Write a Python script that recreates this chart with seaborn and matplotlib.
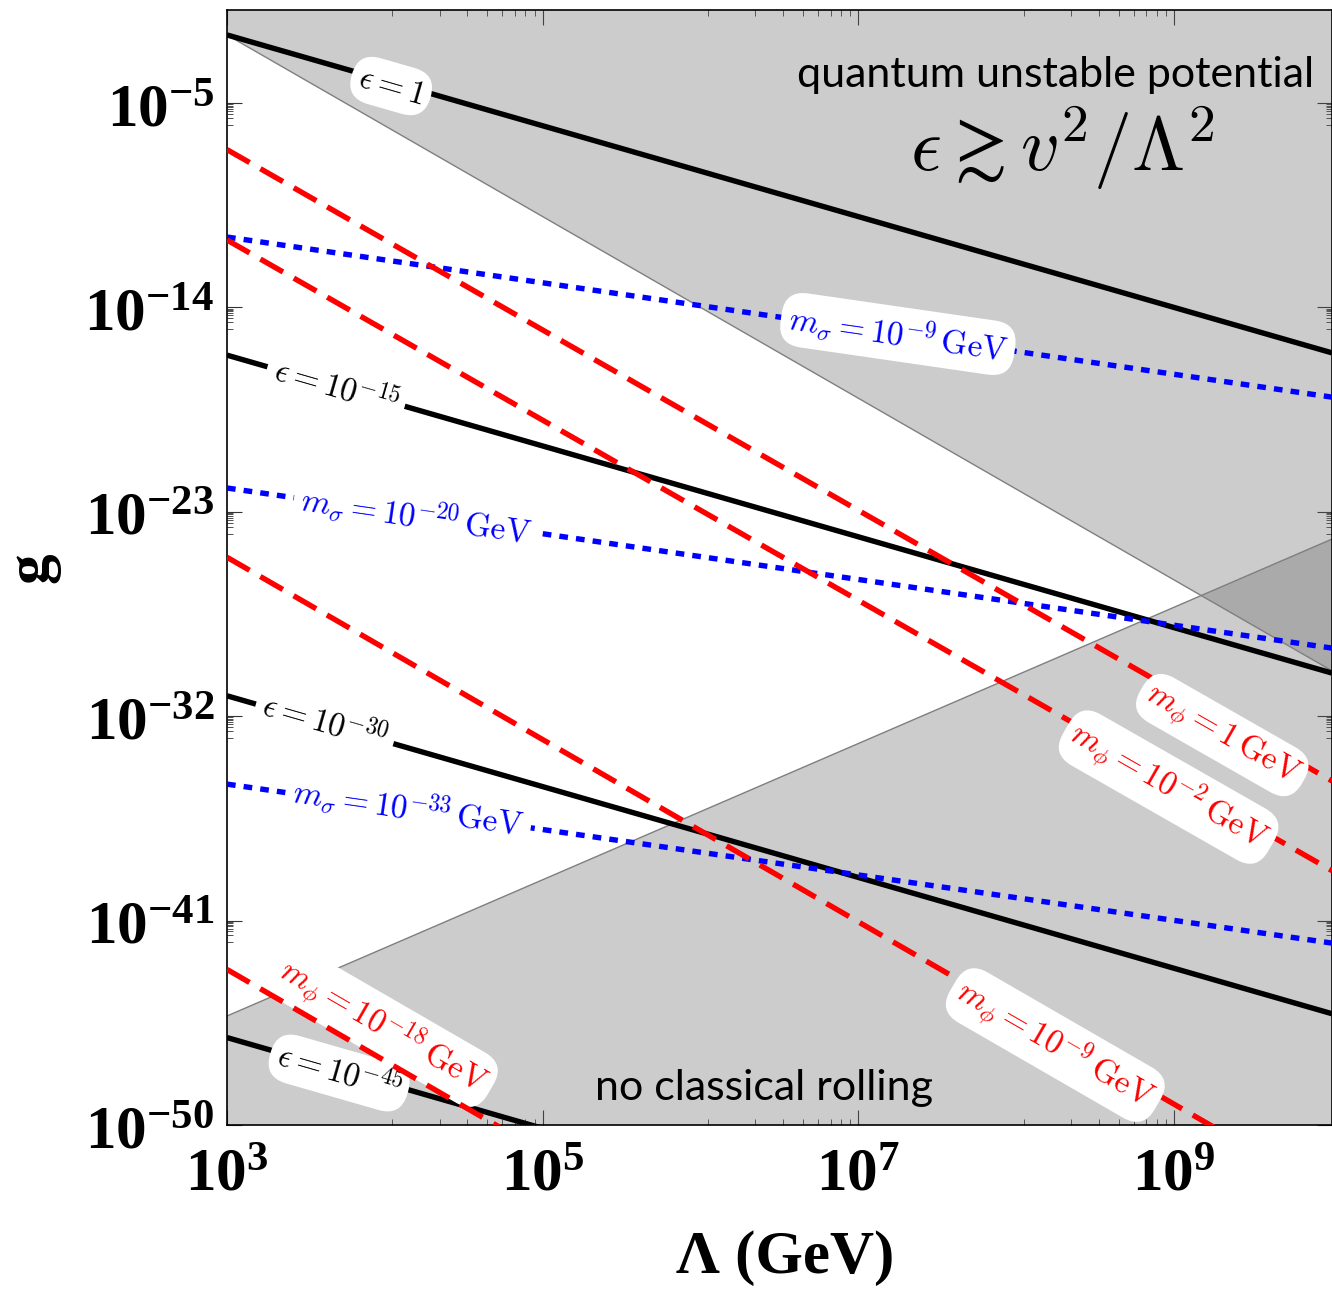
import numpy as np
import pandas as pd
import matplotlib
matplotlib.use("Agg")
import matplotlib.pyplot as plt
import seaborn as sns
from matplotlib.ticker import FixedLocator, FixedFormatter, NullFormatter

# ---------------- data ----------------
LAMBDA = [1e3, 1e10]                      # GeV, line end points
EPS_NAMES = ["1", "10^{-15}", "10^{-30}", "10^{-45}"]
EPS_LOGG = [[-2.0, -16.0], [-16.1, -30.1], [-31.1, -45.1], [-46.15, -60.15]]
MPHI_NAMES = ["1", "10^{-2}", "10^{-9}", "10^{-18}"]
MPHI_LOGG = [[-7.05, -34.85], [-11.03, -38.8], [-25.0, -53.1], [-43.15, -71.3]]
MSIG_NAMES = ["10^{-9}", "10^{-20}", "10^{-33}"]
MSIG_LOGG = [[-10.9, -17.95], [-21.95, -29.0], [-34.99, -41.99]]
UNSTABLE_LOGG = [-2.0, -30.0]             # lower edge of "quantum unstable" region
NOROLL_LOGG = [-45.2, -24.2]              # upper edge of "no classical rolling" region

XTICKS = [1e3, 1e5, 1e7, 1e9]
XTICKLABELS = [r"$10^{3}$", r"$10^{5}$", r"$10^{7}$", r"$10^{9}$"]
YTICKS = [1e-50, 1e-41, 1e-32, 1e-23, 1e-14, 1e-5]
YTICKLABELS = [r"$10^{-50}$", r"$10^{-41}$", r"$10^{-32}$", r"$10^{-23}$",
               r"$10^{-14}$", r"$10^{-5}$"]

# label centres (log10 Lambda, log10 g)
EPS_LABEL_POS = [(4.04, -4.25), (3.69, -17.51), (3.62, -32.30), (3.71, -47.71)]
MSIG_LABEL_POS = [(7.25, -15.17), (4.20, -23.19), (4.15, -36.04)]
MPHI_LABEL_POS = [(9.305, -32.83), (8.965, -35.12), (8.247, -46.48), (3.99, -45.69)]

# ---------------- style ----------------
sns.set_style("ticks")
plt.rcParams["font.family"] = ["DejaVu Sans"]
plt.rcParams["mathtext.fontset"] = "custom"
plt.rcParams["mathtext.rm"] = "Liberation Serif:bold"
plt.rcParams["mathtext.it"] = "Liberation Serif:italic:bold"
plt.rcParams["mathtext.bf"] = "Liberation Serif:bold"
plt.rcParams["axes.linewidth"] = 1.2
plt.rcParams["axes.edgecolor"] = "black"
plt.rcParams["text.color"] = "black"
plt.rcParams["axes.labelcolor"] = "black"
plt.rcParams["xtick.labelcolor"] = "black"
plt.rcParams["ytick.labelcolor"] = "black"

W, H = 1332, 1289
fig = plt.figure(figsize=(W / 100, H / 100), dpi=100)
ax = fig.add_axes([227 / W, 1 - 1125 / H, 1 - 227 / W, (1125 - 9.5) / H])
ax.set_xscale("log")
ax.set_yscale("log")
ax.set_xlim(1e3, 1e10)
ax.set_ylim(1e-50, 10 ** -0.88)

# ---------------- shaded regions ----------------
gray_kw = dict(facecolor="#666666", alpha=1 / 3, edgecolor="none", linewidth=0, zorder=1)
ax.fill_between(LAMBDA, [10 ** v for v in UNSTABLE_LOGG], [1e5, 1e5], **gray_kw)
ax.fill_between(LAMBDA, [1e-80, 1e-80], [10 ** v for v in NOROLL_LOGG], **gray_kw)
ax.plot(LAMBDA, [10 ** v for v in UNSTABLE_LOGG], color="#7f7f7f", lw=1.0, zorder=1.5)
ax.plot(LAMBDA, [10 ** v for v in NOROLL_LOGG], color="#7f7f7f", lw=1.0, zorder=1.5)

# ---------------- curves ----------------
LW = 3.9
for lg in EPS_LOGG:
    df = pd.DataFrame({"L": LAMBDA, "g": [10 ** v for v in lg]})
    sns.lineplot(data=df, x="L", y="g", ax=ax, color="black", lw=LW,
                 solid_capstyle="butt", zorder=2, sort=False)
for lg in MSIG_LOGG:
    df = pd.DataFrame({"L": LAMBDA, "g": [10 ** v for v in lg]})
    sns.lineplot(data=df, x="L", y="g", ax=ax, color="#0000ff", lw=LW,
                 linestyle=(0, (1.6, 1.5)), zorder=3, sort=False)
for lg in MPHI_LOGG:
    df = pd.DataFrame({"L": LAMBDA, "g": [10 ** v for v in lg]})
    sns.lineplot(data=df, x="L", y="g", ax=ax, color="#ff0000", lw=LW,
                 linestyle=(0, (4.8, 2.3)), zorder=4, sort=False)


def screen_angle(lg):
    p0 = ax.transData.transform((LAMBDA[0], 10 ** lg[0]))
    p1 = ax.transData.transform((LAMBDA[1], 10 ** lg[1]))
    return np.degrees(np.arctan2(p1[1] - p0[1], p1[0] - p0[0]))


def add_label(text, pos, lg, color, z):
    ax.text(10 ** pos[0], 10 ** pos[1], text, color=color, fontsize=24,
            math_fontfamily="cm", ha="center", va="center",
            rotation=screen_angle(lg), rotation_mode="anchor", zorder=z,
            bbox=dict(boxstyle="round,pad=0.22,rounding_size=0.7",
                      facecolor="white", edgecolor="none"))


for name, pos, lg in zip(EPS_NAMES, EPS_LABEL_POS, EPS_LOGG):
    add_label(r"$\epsilon = %s$" % name, pos, lg, "black", 2.5)
for name, pos, lg in zip(MSIG_NAMES, MSIG_LABEL_POS, MSIG_LOGG):
    add_label(r"$m_\sigma = %s\,\mathrm{GeV}$" % name, pos, lg, "#0000ff", 3.5)
for i, (name, pos, lg) in enumerate(zip(MPHI_NAMES, MPHI_LABEL_POS, MPHI_LOGG)):
    z = 3.9 if i == 3 else 4.5
    add_label(r"$m_\phi = %s\,\mathrm{GeV}$" % name, pos, lg, "#ff0000", z)

# ---------------- region captions ----------------
fig.text(1314 / W, 1 - 87 / H, "quantum unstable potential", fontsize=31,
         family="Lato", ha="right", va="baseline", zorder=10)
fig.text(1062 / W, 1 - 171 / H, r"$\epsilon \gtrsim v^2/\Lambda^2$", fontsize=55,
         math_fontfamily="cm", ha="center", va="baseline", zorder=10)
fig.text(764 / W, 1 - 1100 / H, "no classical rolling", fontsize=31,
         family="Lato", ha="center", va="baseline", zorder=10)

# ---------------- ticks ----------------
ax.xaxis.set_major_locator(FixedLocator(XTICKS))
ax.xaxis.set_major_formatter(FixedFormatter(XTICKLABELS))
ax.yaxis.set_major_locator(FixedLocator(YTICKS))
ax.yaxis.set_major_formatter(FixedFormatter(YTICKLABELS))
xminor = [m * j / 9 for m in XTICKS[1:] for j in range(1, 9)]
yminor = [m * j / 9 for m in YTICKS[1:] for j in range(1, 9)]
ax.xaxis.set_minor_locator(FixedLocator(xminor))
ax.yaxis.set_minor_locator(FixedLocator(yminor))
ax.xaxis.set_minor_formatter(NullFormatter())
ax.yaxis.set_minor_formatter(NullFormatter())
ax.tick_params(which="both", direction="in", top=True, right=True, color="#333333",
               labelcolor="black")
ax.tick_params(which="major", length=11, width=0.8, labelsize=44)
ax.tick_params(which="minor", length=4.5, width=0.6)
ax.tick_params(axis="x", which="major", pad=14)
ax.tick_params(axis="y", which="major", pad=9)

ax.set_xlabel("Λ (GeV)", fontsize=44, family="Liberation Serif", fontweight="bold")
ax.set_ylabel("g", fontsize=44, family="Liberation Serif", fontweight="bold")
ax.xaxis.set_label_coords((785 - 227) / (W - 227), -(1258 - 1125) / (1125 - 9.5))
ax.yaxis.set_label_coords(-(227 - 32) / (W - 227), (1125 - 568) / (1125 - 9.5))
ax.xaxis.label.set_va("center")
ax.yaxis.label.set_va("center")

fig.savefig("out.png", dpi=100)
